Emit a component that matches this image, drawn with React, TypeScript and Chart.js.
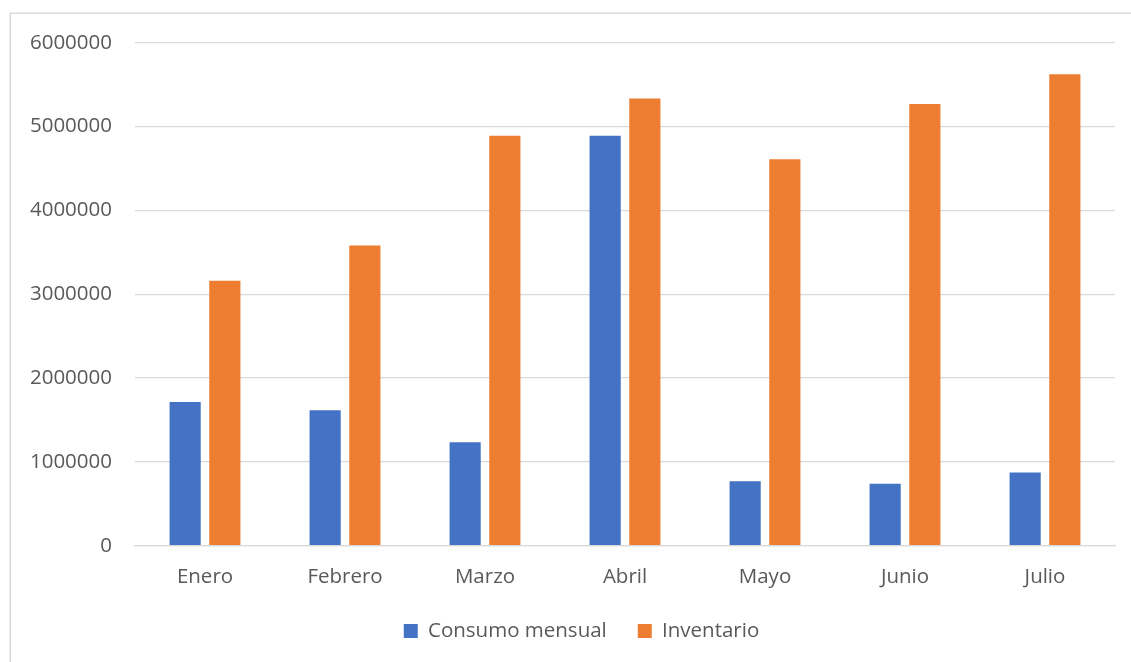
import React, { useEffect, useRef } from "react";
import { Chart, registerables } from "chart.js";

Chart.register(...registerables);

const categories = ["Enero", "Febrero", "Marzo", "Abril", "Mayo", "Junio", "Julio"];
const consumoMensual = [1714000, 1615000, 1234000, 4889000, 770000, 738000, 874000];
const inventario = [3160000, 3580000, 4889000, 5333000, 4610000, 5270000, 5624000];
const yTicks = [0, 1000000, 2000000, 3000000, 4000000, 5000000, 6000000];

const FONT = "'Open Sans', 'DejaVu Sans', sans-serif";
const TEXT = "#595959";
const GRID = "#d9d9d9";

const frame = {
  id: "frame",
  beforeDraw(chart: any) {
    const { ctx } = chart;
    ctx.save();
    ctx.fillStyle = "#ffffff";
    ctx.fillRect(0, 0, chart.width, chart.height);
    ctx.strokeStyle = GRID;
    ctx.lineWidth = 1.5;
    ctx.beginPath();
    ctx.moveTo(10.25, chart.height);
    ctx.lineTo(10.25, 13.25);
    ctx.lineTo(chart.width, 13.25);
    ctx.stroke();
    ctx.restore();
  },
  afterLayout(chart: any) {
    if (chart.legend) chart.legend.left = 48;
  },
};

export default function App() {
  const ref = useRef<HTMLCanvasElement>(null);
  useEffect(() => {
    if (!ref.current) return;
    const chart = new Chart(ref.current, {
      type: "bar",
      data: {
        labels: categories,
        datasets: [
          {
            label: "Consumo mensual",
            data: consumoMensual,
            backgroundColor: "#4472C4",
            categoryPercentage: 0.567,
            barPercentage: 0.785,
          },
          {
            label: "Inventario",
            data: inventario,
            backgroundColor: "#ED7D31",
            categoryPercentage: 0.567,
            barPercentage: 0.785,
          },
        ],
      },
      options: {
        responsive: false,
        animation: false,
        layout: { padding: { left: 0, right: 16, top: 42.7, bottom: 10.75 } },
        scales: {
          x: {
            grid: { display: false, drawTicks: false },
            border: { display: true, color: GRID, width: 1.3 },
            ticks: { color: TEXT, font: { family: FONT, size: 20.5 }, padding: 19 },
            afterFit(scale: any) {
              scale.height = 44;
            },
          },
          y: {
            min: 0,
            max: 6000000,
            afterBuildTicks(scale: any) {
              scale.ticks = yTicks.map((v) => ({ value: v }));
            },
            grid: { color: GRID, lineWidth: 1.3, drawTicks: false },
            border: { display: false },
            ticks: {
              color: TEXT,
              font: { family: FONT, size: 20.5 },
              padding: 23,
              callback: (v: any) => String(v),
            },
            afterFit(scale: any) {
              scale.width = 135;
            },
          },
        },
        plugins: {
          legend: {
            position: "bottom",
            labels: {
              color: TEXT,
              font: { family: FONT, size: 20.5 },
              boxWidth: 14,
              boxHeight: 14,
              padding: 31,
            },
          },
          tooltip: { enabled: false },
        },
      },
      plugins: [frame],
    });
    return () => chart.destroy();
  }, []);
  return (
    <div style={{ position: "fixed", left: 0, top: 0, width: 1131, height: 662, overflow: "hidden" }}>
      <canvas ref={ref} width={1131} height={662} style={{ display: "block", width: 1131, height: 662 }} />
    </div>
  );
}
